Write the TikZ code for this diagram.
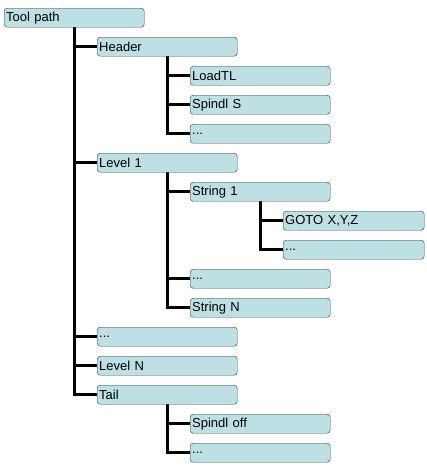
\documentclass[tikz,border=0pt]{standalone}
\usepackage{fontspec}
\setmainfont{Liberation Sans}
\usetikzlibrary{backgrounds}
\definecolor{boxfill}{RGB}{189,224,228}
\definecolor{boxline}{RGB}{60,60,60}
\tikzset{
  item/.style={draw=boxline,fill=boxfill,rounded corners=3pt,anchor=north west,
    minimum height=19pt,text width=136pt,inner xsep=2pt,inner ysep=0pt,
    font=\fontsize{13}{14}\selectfont},
  wide/.style={text width=137pt},
  branch/.style={line width=3pt,black}
}
\begin{document}
\begin{tikzpicture}[x=1pt,y=-1pt,join=round] % Tool path tree
         \useasboundingbox (0,0) rectangle (427,467);
         \node[item] (tp)   at (4,8)   {Tool path};
         \node[item] (hdr)  at (97,37) {Header};
         \node[item] (load) at (190,66) {LoadTL};
         \node[item] (spS)  at (190,95) {Spindl S};
         \node[item] (hdrx) at (190,124) {...};
         \node[item] (lv1)  at (97,153) {Level 1};
         \node[item] (str1) at (190,182) {String 1};
         \node[item,wide] (goto) at (283,211) {GOTO X,Y,Z};
         \node[item,wide] (strx) at (283,240) {...};
         \node[item] (lv1x) at (190,269) {...};
         \node[item] (strN) at (190,298) {String N};
         \node[item] (lvx)  at (97,327) {...};
         \node[item] (lvN)  at (97,356) {Level N};
         \node[item] (tail) at (97,385) {Tail};
         \node[item] (spO)  at (190,414) {Spindl off};
         \node[item] (tlx)  at (190,443) {...};
         \begin{scope}[on background layer]
           \foreach \c in {hdr,lv1,lvx,lvN,tail}
             \draw[branch] (tp.south) |- (\c.west);
           \foreach \c in {load,spS,hdrx}
             \draw[branch] (hdr.south) |- (\c.west);
           \foreach \c in {str1,lv1x,strN}
             \draw[branch] (lv1.south) |- (\c.west);
           \foreach \c in {goto,strx}
             \draw[branch] (str1.south) |- (\c.west);
           \foreach \c in {spO,tlx}
             \draw[branch] (tail.south) |- (\c.west);
         \end{scope}
      \end{tikzpicture}
\end{document}
